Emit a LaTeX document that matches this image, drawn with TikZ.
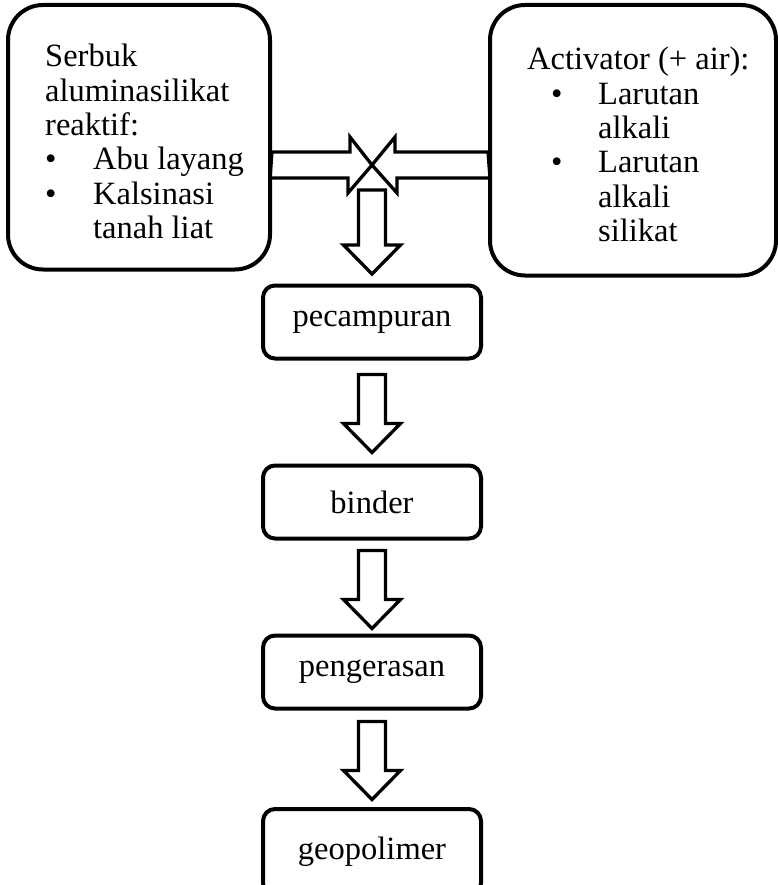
\documentclass[tikz,border=0pt]{standalone}
\usepackage{fontspec}
\setmainfont{Liberation Serif}
\usepackage{xcolor}
\usepackage{tikz}

% hollow block arrow pointing down, #2 = top centre, #1 = shaft length
\newcommand{\flowarrow}[2][49]{%
  \draw[hollow] (#2) ++(-13.5,0) -- ++(0,#1) -- ++(-15,0) -- ++(28.5,29) -- ++(28.5,-29) -- ++(-15,0) -- ++(0,-#1) -- cycle;}

\begin{document}
\begin{tikzpicture}[x=1pt, y=-1pt,
  every node/.style={font=\fontsize{32.5}{34.4}\selectfont},
  bigbox/.style={draw, line width=4pt, rounded corners=35pt, inner sep=0pt},
  stepbox/.style={draw, line width=4pt, rounded corners=12pt, minimum width=218pt, minimum height=73pt},
  listtext/.style={anchor=north west, inner sep=0pt, align=left},
  hollow/.style={draw, line width=3.3pt}]
            \clip (0,0) rectangle (778,885);
            % Raw material
            \node[bigbox, minimum width=262pt, minimum height=264.5pt] (bahan) at (139,137.25) {};
            \node[listtext] (bahantext) at (45,44) {Serbuk\\aluminasilikat\\reaktif:\\\makebox[48pt][l]{\textbullet}Abu layang\\\makebox[48pt][l]{\textbullet}Kalsinasi\\\hspace*{48pt}tanah liat};
            % Activator
            \node[bigbox, minimum width=286pt, minimum height=270.5pt] (aktivator) at (633,140.25) {};
            \node[listtext] (aktivatortext) at (527,47) {Activator (+ air):\\\hspace*{24pt}\makebox[47pt][l]{\textbullet}Larutan\\\hspace*{71pt}alkali\\\hspace*{24pt}\makebox[47pt][l]{\textbullet}Larutan\\\hspace*{71pt}alkali\\\hspace*{71pt}silikat};
            % Mixing point
            \coordinate (temu) at (372,165);
            \draw[hollow] (bahan.east |- temu) ++(0,-13) -- ++(78,0) -- ++(0,-15) -- (temu) -- ++(-24,28) -- ++(0,-15) -- ++(-78,0) -- cycle;
            \draw[hollow] (aktivator.west |- temu) ++(0,-13) -- ++(-93,0) -- ++(0,-15) -- (temu) -- ++(25,28) -- ++(0,-15) -- ++(93,0) -- cycle;
            \flowarrow[55]{[yshift=-25pt]temu}
            % Process steps
            \node[stepbox] (campur) at (372,322) {pecampuran};
            \node[stepbox] (binder) at (372,502) {binder};
            \node[stepbox] (keras) at (372,672) {pengerasan};
            \node[stepbox, minimum height=86pt] (geo) at (372,852) {\raisebox{7pt}{geopolimer}};
            \flowarrow{[yshift=-14pt]campur.south}
            \flowarrow{[yshift=-10pt]binder.south}
            \flowarrow{[yshift=-11pt]keras.south}
        \end{tikzpicture}
\end{document}
